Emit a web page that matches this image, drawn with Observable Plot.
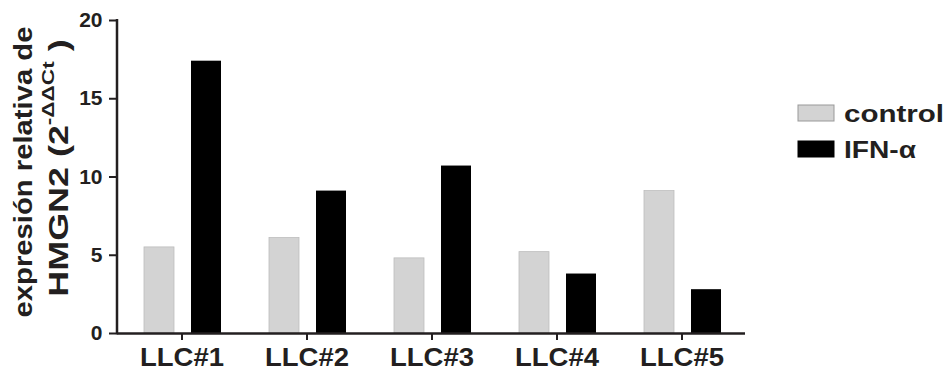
<!DOCTYPE html>
<html><head><meta charset="utf-8">
<script src="https://cdn.jsdelivr.net/npm/d3@7"></script>
<script src="https://cdn.jsdelivr.net/npm/@observablehq/plot@0.6"></script>
<style>
body{margin:0;background:#fff;font-family:"Liberation Sans",Arial,sans-serif;}
#chart{position:relative;width:948px;height:373px;}
</style></head>
<body><div id="chart"></div>
<script>
const groups = ["LLC#1","LLC#2","LLC#3","LLC#4","LLC#5"];
const control = [5.5, 6.1, 4.8, 5.2, 9.1];
const ifn = [17.4, 9.1, 10.7, 3.8, 2.8];
const yTicks = [0,5,10,15,20];
const seriesNames = ["control","IFN-α"];
const colors = ["#d3d3d3","#000000"];

const dataC = groups.map((g,i)=>({group:g, value:control[i]}));
const dataI = groups.map((g,i)=>({group:g, value:ifn[i]}));

const FONT = '"Liberation Sans", Arial, sans-serif';
const ink = "#231f20";
const plot = Plot.plot({
  width: 948, height: 373,
  marginLeft: 117, marginRight: 203, marginTop: 20, marginBottom: 40,
  style: {fontFamily: FONT, background: "#fff", color: ink},
  x: {domain: groups, padding: 0, label: null},
  y: {domain: [0,20], ticks: yTicks, label: null},
  marks: [
    Plot.barY(dataC, {x:"group", y:"value", fill: colors[0], stroke: "#bdbdbd", strokeWidth: 0.8, insetLeft: 25, insetRight: 70}),
    Plot.barY(dataI, {x:"group", y:"value", fill: colors[1], insetLeft: 72, insetRight: 23}),
    Plot.axisY({ticks: yTicks, tickSize: 8, tickPadding: 7, fontSize: 21, fontWeight: "bold", stroke: ink, strokeWidth: 2, fill: ink}),
    Plot.axisX({tickSize: 7, tickPadding: 8, fontSize: 25, fontWeight: "bold", stroke: ink, strokeWidth: 2, fill: ink}),
    Plot.ruleY([0], {stroke: ink, strokeWidth: 2.5})
  ]
});
document.getElementById("chart").appendChild(plot);

const svg = d3.select(plot);
const ys = plot.scale("y");
// y-axis domain line
svg.append("line").attr("x1",117).attr("x2",117)
  .attr("y1", ys.apply(20) - 1).attr("y2", ys.apply(0) + 1.2)
  .attr("stroke", ink).attr("stroke-width", 2.5);

// tick label fonts (wide bold face in the reference)
svg.selectAll('g[aria-label="y-axis tick label"]').attr("font-size", 21).attr("font-weight","bold");
svg.selectAll('g[aria-label="y-axis tick label"] text').attr("font-size", 21).attr("font-weight","bold");
svg.selectAll('g[aria-label="x-axis tick label"]').attr("font-size", 25).attr("font-weight","bold");
svg.selectAll('g[aria-label="x-axis tick label"] text').attr("font-size", 25).attr("font-weight","bold")
  .attr("textLength", 84).attr("lengthAdjust","spacingAndGlyphs");

// y-axis title
const t = svg.append("g").attr("font-family",FONT).attr("font-weight","bold").attr("fill",ink).attr("text-anchor","middle");
t.append("text").attr("transform","translate(32,172) rotate(-90) scale(1.17,1)").attr("font-size",25)
  .text("expresión relativa de");
const t2 = t.append("text").attr("transform","translate(68,168) rotate(-90) scale(1.33,1)").attr("font-size",27);
t2.append("tspan").text("HMGN2 (2");
t2.append("tspan").attr("dy",-14).attr("font-size",17).text("-ΔΔCt");
t2.append("tspan").attr("dy",14).text(" )");

// legend
const lg = svg.append("g").attr("font-family",FONT).attr("font-weight","bold").attr("fill",ink).attr("text-anchor","start");
const legW = [100, 72];
seriesNames.forEach((name,i)=>{
  const y0 = 105 + i*36;
  lg.append("rect").attr("x",798).attr("y",y0).attr("width",36).attr("height",16)
    .attr("fill",colors[i]).attr("stroke", i===0 ? "#999" : "#000").attr("stroke-width",1);
  lg.append("text").attr("x",844).attr("y",y0+17).attr("font-size",23)
    .attr("textLength", legW[i]).attr("lengthAdjust","spacingAndGlyphs").text(name);
});
</script></body></html>
